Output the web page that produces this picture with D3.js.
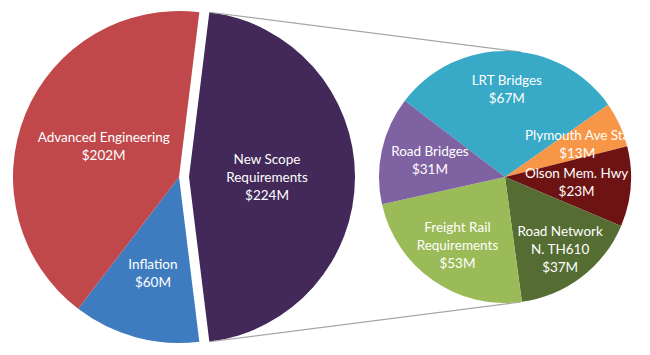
<!DOCTYPE html>
<html>
<head>
<meta charset="utf-8">
<script src="https://cdn.jsdelivr.net/npm/d3@7"></script>
<style>
  html, body { margin: 0; padding: 0; background: #ffffff; }
  svg { display: block; }
  text { font-family: Lato, "Open Sans", sans-serif; fill: #ffffff; }
</style>
</head>
<body>
<svg id="chart" width="650" height="355"></svg>
<script>
// ---- data ----
const mainCategories = ["New Scope Requirements", "Inflation", "Advanced Engineering"];
const mainValues = [224, 60, 202];
const mainLabelLines = [["New Scope", "Requirements", "$224M"], ["Inflation", "$60M"], ["Advanced Engineering", "$202M"]];

const subCategories = ["LRT Bridges", "Plymouth Ave Sta", "Olson Mem. Hwy", "Road Network N. TH610", "Freight Rail Requirements", "Road Bridges"];
const subValues = [67, 13, 23, 37, 53, 31];
const subLabelLines = [["LRT Bridges", "$67M"], ["Plymouth Ave Sta", "$13M"], ["Olson Mem. Hwy", "$23M"],
                       ["Road Network", "N. TH610", "$37M"], ["Freight Rail", "Requirements", "$53M"], ["Road Bridges", "$31M"]];

// ---- styles / layout ----
const mainColors = ["#42295a", "#3f7cbf", "#c0484a"];
const subColors = ["#38a9c6", "#f79646", "#6e1313", "#556d32", "#9bbb59", "#7f62a2"];
const mainLabelR = [0.47, 0.6, 0.49];
const subLabelR = [0.7, 0.63, 0.57, 0.72, 0.66, 0.61];

const svg = d3.select("#chart");
const fontSize = 13.5, lineH = 18;

// main pie
const M = { cx: 179, cy: 177, r: 166, explode: 10 };
const mainTotal = d3.sum(mainValues);
const mainStart = Math.PI / 2 - (mainValues[0] / mainTotal) * Math.PI;
const mainPie = d3.pie().sort(null).startAngle(mainStart).endAngle(mainStart + 2 * Math.PI);
const mainArcs = mainPie(mainValues);
const mainArc = d3.arc().innerRadius(0).outerRadius(M.r);

const mg = svg.append("g").attr("transform", `translate(${M.cx},${M.cy})`);
mainArcs.forEach((a, i) => {
  const mid = (a.startAngle + a.endAngle) / 2;
  const ex = i === 0 ? M.explode : 0;
  const dx = ex * Math.sin(mid), dy = -ex * Math.cos(mid);
  const g = mg.append("g").attr("transform", `translate(${dx},${dy})`);
  g.append("path").attr("d", mainArc(a)).attr("fill", mainColors[i]);
  const lr = M.r * mainLabelR[i];
  const lx = lr * Math.sin(mid), ly = -lr * Math.cos(mid);
  const lines = mainLabelLines[i];
  const t = g.append("text").attr("text-anchor", "middle").attr("font-size", fontSize);
  lines.forEach((s, k) => {
    t.append("tspan").attr("x", lx).attr("y", ly + (k - (lines.length - 1) / 2) * lineH + fontSize * 0.36).text(s);
  });
});

// secondary pie
const S = { cx: 505, cy: 177, r: 126 };
const subStart = -52.7 * Math.PI / 180;
const subPie = d3.pie().sort(null).startAngle(subStart).endAngle(subStart + 2 * Math.PI);
const subArcs = subPie(subValues);
const subArc = d3.arc().innerRadius(0).outerRadius(S.r);

// connector lines (tangents from exploded slice edge points to secondary pie)
const ex0 = mainArcs[0];
const emid = (ex0.startAngle + ex0.endAngle) / 2;
const pcx = M.cx + M.explode * Math.sin(emid), pcy = M.cy - M.explode * Math.cos(emid);
function tangentPoint(px, py, top) {
  const vx = px - S.cx, vy = py - S.cy;
  const d = Math.hypot(vx, vy);
  const base = Math.atan2(vy, vx);
  const alpha = Math.acos(S.r / d);
  const c1 = [S.cx + S.r * Math.cos(base + alpha), S.cy + S.r * Math.sin(base + alpha)];
  const c2 = [S.cx + S.r * Math.cos(base - alpha), S.cy + S.r * Math.sin(base - alpha)];
  return top ? (c1[1] < c2[1] ? c1 : c2) : (c1[1] > c2[1] ? c1 : c2);
}
[ex0.startAngle, ex0.endAngle].forEach((ang, j) => {
  const px = pcx + M.r * Math.sin(ang), py = pcy - M.r * Math.cos(ang);
  const tp = tangentPoint(px, py, j === 0);
  svg.append("line").attr("x1", px).attr("y1", py).attr("x2", tp[0]).attr("y2", tp[1])
    .attr("stroke", "#a6a6a6").attr("stroke-width", 1.2);
});

const sg = svg.append("g").attr("transform", `translate(${S.cx},${S.cy})`);
subArcs.forEach((a, i) => {
  sg.append("path").attr("d", subArc(a)).attr("fill", subColors[i]);
});
subArcs.forEach((a, i) => {
  const mid = (a.startAngle + a.endAngle) / 2;
  const lr = S.r * subLabelR[i];
  const lx = lr * Math.sin(mid), ly = -lr * Math.cos(mid);
  const lines = subLabelLines[i];
  const t = sg.append("text").attr("text-anchor", "middle").attr("font-size", fontSize);
  lines.forEach((s, k) => {
    t.append("tspan").attr("x", lx).attr("y", ly + (k - (lines.length - 1) / 2) * lineH + fontSize * 0.36).text(s);
  });
});
</script>
</body>
</html>
